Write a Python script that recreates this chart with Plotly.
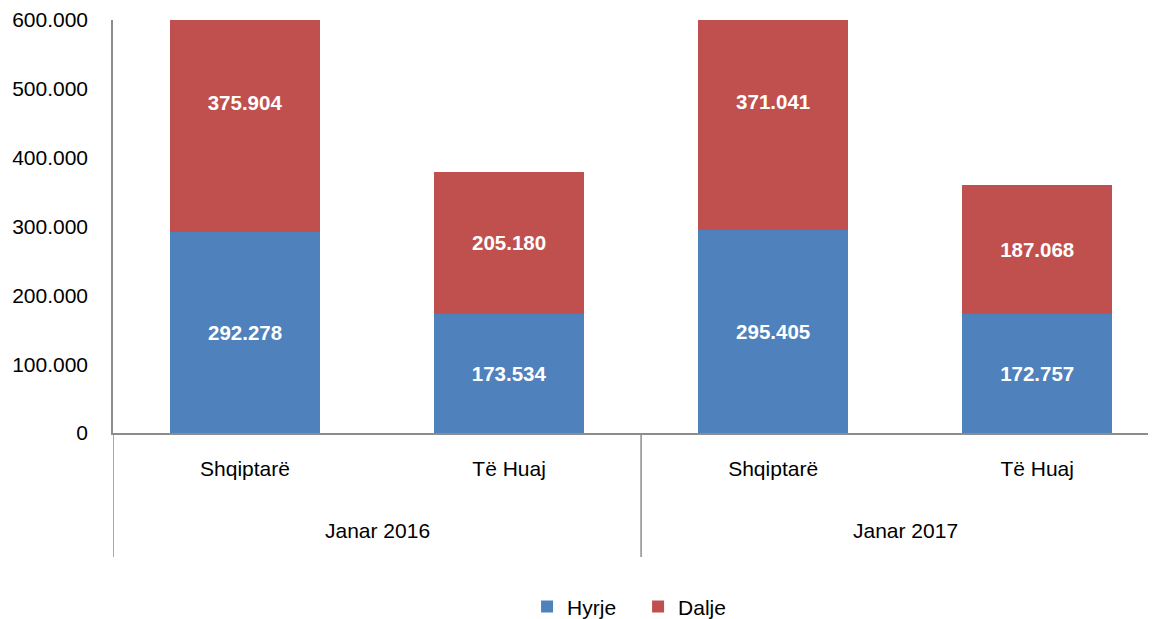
import plotly.graph_objects as go

periods = ["Janar 2016", "Janar 2016", "Janar 2017", "Janar 2017"]
groups = ["Shqiptarë", "Të Huaj", "Shqiptarë", "Të Huaj"]
hyrje = [292278, 173534, 295405, 172757]
dalje = [375904, 205180, 371041, 187068]
y_ticks = [0, 100000, 200000, 300000, 400000, 500000, 600000]

FONT = "Liberation Sans, Arial, sans-serif"
AXIS_COLOR = "#8c8c8c"

xpos = list(range(len(groups)))

fig = go.Figure()
for name, vals, color in [("Hyrje", hyrje, "#4F81BD"), ("Dalje", dalje, "#C0504D")]:
    fig.add_trace(go.Bar(
        name=name, x=xpos, y=vals,
        marker=dict(color=color, line=dict(width=0)),
        texttemplate="<b>%{y:,}</b>", textposition="inside", insidetextanchor="middle",
        textfont=dict(color="white", size=20.5, family=FONT), textangle=0,
    ))

# second-level category labels and dividers
unique_periods = list(dict.fromkeys(periods))
for p in unique_periods:
    idx = [i for i, q in enumerate(periods) if q == p]
    fig.add_annotation(x=sum(idx) / len(idx), y=-0.235, xref="x", yref="paper",
                       text=p, showarrow=False, font=dict(size=21, family=FONT, color="black"),
                       xanchor="center", yanchor="middle")
bounds = [-0.5] + [i + 0.5 for i in range(len(periods) - 1) if periods[i] != periods[i + 1]]
for b in bounds:
    fig.add_shape(type="line", x0=b, x1=b, xref="x", y0=0, y1=-0.300, yref="paper",
                  line=dict(color=AXIS_COLOR, width=1.5))

fig.update_layout(
    barmode="stack",
    bargap=0.43,
    width=1148, height=611,
    margin=dict(l=105, r=0, t=12, b=186, autoexpand=False),
    paper_bgcolor="white", plot_bgcolor="white",
    separators=",.",
    font=dict(family=FONT, size=21, color="black"),
    showlegend=True,
    legend=dict(orientation="h", x=0.397, xanchor="left", y=-0.421, yanchor="middle",
                font=dict(size=21), itemwidth=30, entrywidth=66, traceorder="normal"),
)
fig.update_xaxes(
    range=[-0.5, 3.45], automargin=False,
    tickvals=xpos, ticktext=groups,
    showline=True, linecolor=AXIS_COLOR, linewidth=1.5,
    ticks="", showgrid=False, zeroline=False, tickfont=dict(size=21),
    ticklabelstandoff=16,
)
fig.update_yaxes(
    range=[0, 600000], automargin=False,
    tickvals=y_ticks, tickformat=",",
    showline=True, linecolor=AXIS_COLOR, linewidth=1.5,
    showgrid=False, zeroline=False, ticks="",
    tickfont=dict(size=21), ticklabelstandoff=19,
)

fig.write_html("out.html")
